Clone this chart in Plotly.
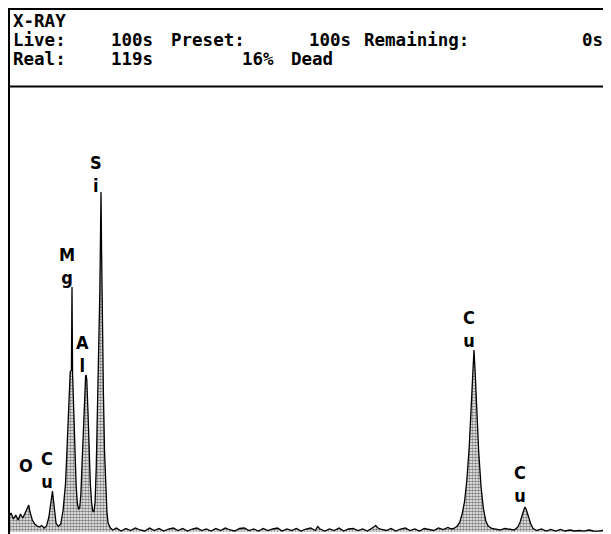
import plotly.graph_objects as go

# ---- data ----
energy_kev = [
    0.18, 0.22, 0.26, 0.30, 0.34, 0.38, 0.42, 0.46, 0.50, 0.52, 0.54, 0.58, 0.62, 0.66, 0.70,
    0.74, 0.78, 0.82, 0.86, 0.88, 0.90, 0.92, 0.94, 0.96, 0.98, 1.02, 1.06, 1.10, 1.14, 1.16,
    1.18, 1.20, 1.22, 1.24, 1.25, 1.26, 1.28, 1.30, 1.32, 1.34, 1.36, 1.38, 1.40, 1.42, 1.44,
    1.46, 1.48, 1.49, 1.50, 1.52, 1.54, 1.56, 1.58, 1.60, 1.62, 1.64, 1.66, 1.68, 1.70, 1.72,
    1.73, 1.74, 1.75, 1.76, 1.78, 1.80, 1.82, 1.84, 1.86, 1.90, 1.94, 2.00, 2.08, 2.16, 2.24,
    2.32, 2.40, 2.48, 2.56, 2.64, 2.72, 2.80, 2.88, 2.96, 3.04, 3.12, 3.20, 3.28, 3.36, 3.44,
    3.52, 3.60, 3.68, 3.76, 3.84, 3.92, 4.00, 4.08, 4.16, 4.24, 4.32, 4.40, 4.48, 4.56, 4.64,
    4.72, 4.80, 4.88, 4.96, 5.04, 5.12, 5.20, 5.28, 5.36, 5.40, 5.44, 5.52, 5.60, 5.68, 5.76,
    5.84, 5.92, 6.00, 6.08, 6.16, 6.24, 6.32, 6.38, 6.42, 6.48, 6.56, 6.64, 6.72, 6.80, 6.88,
    6.96, 7.04, 7.12, 7.20, 7.28, 7.36, 7.44, 7.52, 7.60, 7.66, 7.70, 7.76, 7.80, 7.84, 7.88,
    7.92, 7.96, 8.00, 8.02, 8.04, 8.06, 8.08, 8.12, 8.16, 8.20, 8.24, 8.28, 8.34, 8.40, 8.48,
    8.56, 8.64, 8.72, 8.78, 8.82, 8.86, 8.90, 8.92, 8.96, 9.00, 9.04, 9.10, 9.18, 9.26, 9.34,
    9.42, 9.50, 9.58, 9.66, 9.74, 9.82, 9.90, 9.98, 10.06, 10.14, 10.22, 10.30, 10.36,
]
counts = [
    150, 190, 130, 170, 120, 180, 140, 190, 230, 270, 200, 120, 80, 60, 50,
    65, 40, 60, 150, 260, 330, 410, 300, 160, 90, 55, 80, 220, 480, 750,
    1050, 1400, 1600, 1620, 2450, 1580, 1150, 760, 460, 290, 230, 240, 380, 680, 1050,
    1400, 1560, 1570, 1520, 1200, 800, 480, 300, 210, 200, 300, 650, 1150, 1800, 2400,
    2900, 3400, 2800, 2150, 1400, 800, 420, 200, 90, 40, 20, 40, 10, 35, 15,
    40, 20, 10, 40, 15, 35, 10, 30, 40, 15, 35, 10, 30, 40, 15,
    30, 10, 35, 15, 40, 20, 10, 35, 40, 15, 30, 10, 35, 15, 30,
    40, 10, 30, 15, 35, 10, 30, 40, 15, 55, 30, 10, 30, 15, 40,
    10, 30, 35, 15, 30, 10, 40, 65, 40, 25, 15, 35, 10, 30, 40,
    15, 30, 10, 35, 25, 15, 40, 25, 45, 30, 35, 60, 100, 180, 300,
    520, 850, 1350, 1600, 1820, 1600, 1300, 800, 450, 230, 110, 60, 35, 30, 20,
    35, 25, 20, 50, 100, 180, 250, 230, 160, 80, 35, 15, 30, 10, 25,
    10, 25, 10, 20, 10, 15, 8, 20, 10, 8, 15, 8, 10,
]

peak_labels = ["O", "C<br>u", "M<br>g", "A<br>l", "S<br>i", "C<br>u", "C<br>u"]
label_energy = [0.48, 0.82, 1.17, 1.42, 1.66, 7.95, 8.82]
label_counts = [670, 620, 2660, 1780, 3580, 2030, 480]

# header words, their left edges (reference pixels) and text rows
header_words = ["X-RAY",
                "Live:", "100s", "Preset:", "100s", "Remaining:", "0s",
                "Real:", "119s", "16%", "Dead"]
header_x = [12, 12, 110, 170, 308, 363, 581, 12, 110, 241, 290]
header_rows = [0, 1, 1, 1, 1, 1, 1, 2, 2, 2, 2]

# ---- geometry helpers: reference page pixels -> paper coordinates ----
PAGE_OFF = 8                      # the page body margin that shifts the figure
W, H = 611 - PAGE_OFF, 534 - PAGE_OFF
ML, MR, MT, MB = 1, 0, 79, 2
PW, PH = W - ML - MR, H - MT - MB


def px(x):
    return (x - PAGE_OFF - ML) / PW


def py(y):
    return (H - MB - (y - PAGE_OFF)) / PH


fig = go.Figure()
fig.add_trace(go.Scatter(
    x=energy_kev, y=counts, mode="lines",
    line=dict(color="black", width=1.3),
    fill="tozeroy",
    fillcolor="#8c8c8c",
    fillpattern=dict(shape=".", fgcolor="#000000", bgcolor="#ffffff", size=3, solidity=0.6),
    hoverinfo="skip", showlegend=False,
))

for t, e, c in zip(peak_labels, label_energy, label_counts):
    fig.add_annotation(x=e, y=c, text=t, showarrow=False, xanchor="center", yanchor="middle",
                       font=dict(family="Liberation Sans Narrow, DejaVu Sans Condensed",
                                 size=18, color="black", weight="bold"))

row_y = [21, 40.5, 59]
for w, x, row in zip(header_words, header_x, header_rows):
    fig.add_annotation(xref="paper", yref="paper", x=px(x - 1), y=py(row_y[row]),
                       text=w, showarrow=False, xanchor="left", yanchor="middle",
                       font=dict(family="DejaVu Sans Mono", size=17.5, color="black", weight="bold"))

line_style = dict(color="black", width=2)
fig.add_shape(type="line", xref="paper", yref="paper", x0=px(8), x1=px(612), y0=py(9), y1=py(9), line=line_style)
fig.add_shape(type="line", xref="paper", yref="paper", x0=px(8), x1=px(612), y0=py(86.5), y1=py(86.5), line=line_style)
fig.add_shape(type="line", xref="paper", yref="paper", x0=px(9), x1=px(9), y0=py(8), y1=py(535), line=line_style)

fig.update_layout(
    width=W, height=H,
    margin=dict(l=ML, r=MR, t=MT, b=MB),
    paper_bgcolor="white", plot_bgcolor="white",
    xaxis=dict(range=[(PAGE_OFF + ML + 2) / 59.2, (611 + 2) / 59.2], visible=False, fixedrange=True),
    yaxis=dict(range=[0, 4450], visible=False, fixedrange=True),
)

fig.write_html("out.html")
